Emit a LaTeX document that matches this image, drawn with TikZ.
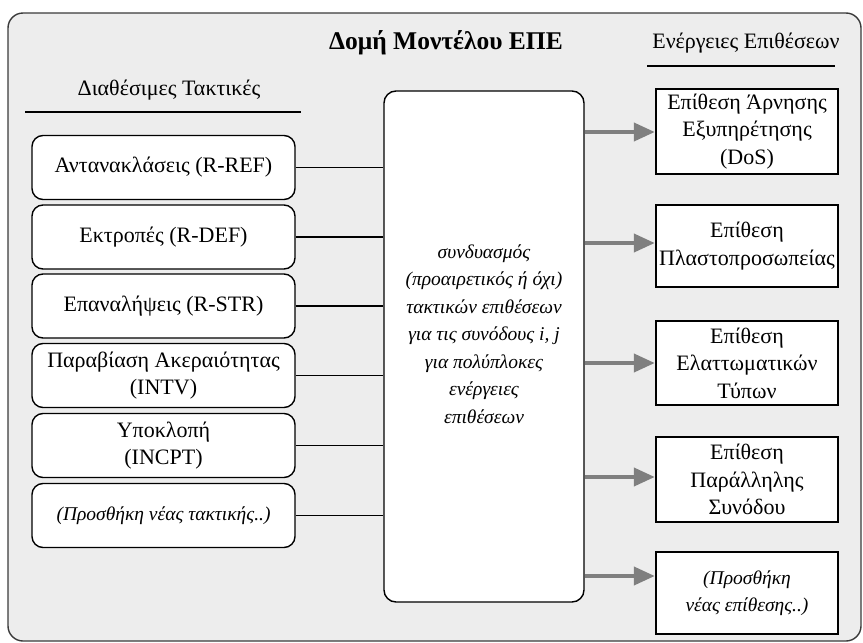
\documentclass[tikz,border=0pt]{standalone}
\usepackage{fontspec}
\setmainfont{Liberation Serif}
\usetikzlibrary{arrows.meta}
\definecolor{bggray}{HTML}{EDEDED}
\definecolor{arrgray}{HTML}{7F7F7F}
\definecolor{framegray}{HTML}{3A3A3A}
\tikzset{
  txt/.style={font=\fontsize{22}{27.5}\selectfont, align=center, inner sep=0pt},
  itxt/.style={font=\fontsize{19.5}{27.5}\selectfont\itshape},
  tactic/.style={draw=black, line width=1.4pt, fill=white, rounded corners=11pt, minimum width=263pt, minimum height=64pt, txt},
  attack/.style={draw=black, line width=1.4pt, fill=white, minimum width=182pt, txt},
  link/.style={draw=black, line width=1.5pt},
  arr/.style={draw=arrgray, line width=4pt, -{Triangle[length=21pt,width=18pt]}, shorten >=0.5pt},
  heading/.style={txt},
}
\begin{document}
\begin{tikzpicture}[x=1pt,y=-1pt]
\useasboundingbox (0,0) rectangle (863,643);
% outer frame
\draw[framegray, line width=1.4pt, fill=bggray, rounded corners=15pt] (8,13) rectangle (861,641);
% title and headings
\node[txt, font=\fontsize{25.5}{27}\selectfont\bfseries] (title) at (446,43) {Δομή Μοντέλου ΕΠΕ};
\node[heading] (hleft) at (169,90) {Διαθέσιμες Τακτικές};
\node[heading] (hright) at (746,43) {Ενέργειες Επιθέσεων};
\coordinate (ul1) at (25,112); \coordinate (ul2) at (301,112);
\draw[line width=1.4pt] (ul1) -- (ul2);
\coordinate (ur1) at (647,66); \coordinate (ur2) at (835,66);
\draw[line width=1.4pt] (ur1) -- (ur2);
% centre box
\node[draw=black, line width=1.4pt, fill=white, rounded corners=12pt, minimum width=200pt, minimum height=511pt] (c) at (484,346.5) {};
\node[txt, itxt] (ctext) at (484,334) {συνδυασμός\\(προαιρετικός ή όχι)\\τακτικών επιθέσεων\\για τις συνόδους i, j\\για πολύπλοκες\\ενέργειες\\επιθέσεων};
% tactics
\node[tactic] (t1) at (163.5,167.5) {Αντανακλάσεις (R-REF)};
\node[tactic] (t2) at (163.5,237) {Εκτροπές (R-DEF)};
\node[tactic] (t3) at (163.5,306) {Επαναλήψεις (R-STR)};
\node[tactic] (t4) at (163.5,375.5) {Παραβίαση Ακεραιότητας\\(INTV)};
\node[tactic] (t5) at (163.5,445.5) {Υποκλοπή\\(INCPT)};
\node[tactic, itxt] (t6) at (163.5,515.5) {(Προσθήκη νέας τακτικής..)};
\foreach \i in {1,...,6} { \draw[link] (t\i.east) -- (c.west |- t\i.east); }
% attacks
\node[attack, minimum height=85pt] (r1) at (747,131.5) {Επίθεση Άρνησης\\Εξυπηρέτησης\\(DoS)};
\node[attack, minimum height=82pt] (r2) at (747,246) {Επίθεση\\Πλαστοπροσωπείας};
\node[attack, minimum height=84pt] (r3) at (747,363) {Επίθεση\\Ελαττωματικών\\Τύπων};
\node[attack, minimum height=85pt] (r4) at (747,479.5) {Επίθεση\\Παράλληλης\\Συνόδου};
\node[attack, itxt, minimum height=82pt] (r5) at (747,593) {(Προσθήκη\\νέας επίθεσης..)};
\coordinate (a1) at (r1.west |- 0,132);
\coordinate (a2) at (r2.west |- 0,243);
\coordinate (a3) at (r3.west |- 0,363);
\coordinate (a4) at (r4.west |- 0,477);
\coordinate (a5) at (r5.west |- 0,576);
\foreach \i in {1,...,5} { \draw[arr] (c.east |- a\i) -- (a\i); }
\end{tikzpicture}
\end{document}
